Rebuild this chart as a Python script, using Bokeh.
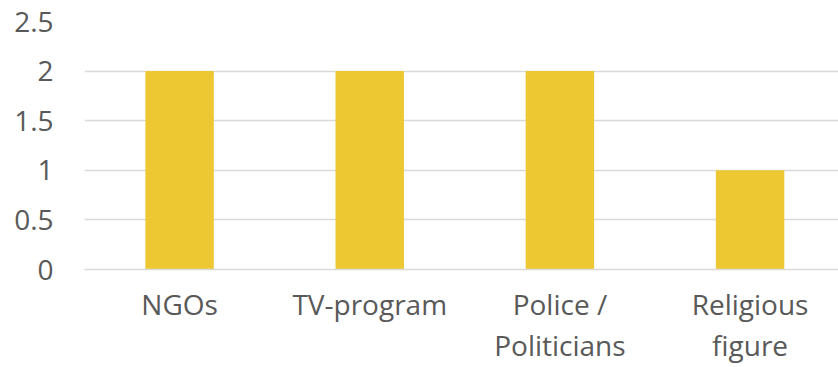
from bokeh.plotting import figure
from bokeh.models import Range1d, FixedTicker
from bokeh.embed import file_html
from bokeh.resources import INLINE

categories = ["NGOs", "TV-program", "Police /\nPoliticians", "Religious\nfigure"]
values = [2, 2, 2, 1]
y_ticks = [0, 0.5, 1, 1.5, 2, 2.5]
y_tick_labels = ["0", "0.5", "1", "1.5", "2", "2.5"]

xs = [i + 0.5 for i in range(len(categories))]

p = figure(width=838, height=367, output_backend="svg", toolbar_location=None,
           x_range=Range1d(0, 3.965), y_range=Range1d(0, 2.5),
           min_border_left=84, min_border_right=0, min_border_top=21, min_border_bottom=97)
p.outline_line_color = None
p.background_fill_color = "white"
p.border_fill_color = "white"

p.vbar(x=xs, top=values, width=0.36, fill_color="#EEC833", line_color=None)

font = "Open Sans"
p.yaxis.ticker = FixedTicker(ticks=y_ticks)
p.yaxis.major_label_overrides = {t: l for t, l in zip(y_ticks, y_tick_labels)}
p.yaxis.axis_line_color = None
p.yaxis.major_tick_line_color = None
p.yaxis.minor_tick_line_color = None
p.yaxis.major_tick_out = 0
p.yaxis.major_label_standoff = 31
p.yaxis.major_label_text_font = font
p.yaxis.major_label_text_font_size = "28px"
p.yaxis.major_label_text_color = "#595959"

p.xaxis.ticker = FixedTicker(ticks=xs)
p.xaxis.major_label_overrides = {x: c for x, c in zip(xs, categories)}
p.xaxis.axis_line_color = "#D9D9D9"
p.xaxis.axis_line_width = 1.5
p.xaxis.major_tick_line_color = None
p.xaxis.minor_tick_line_color = None
p.xaxis.major_tick_out = 0
p.xaxis.major_label_standoff = 15
p.xaxis.major_label_text_font = font
p.xaxis.major_label_text_font_size = "28px"
p.xaxis.major_label_text_line_height = 1.1
p.xaxis.major_label_text_color = "#595959"

p.xgrid.grid_line_color = None
p.ygrid.grid_line_color = "#D9D9D9"
p.ygrid.grid_line_width = 1.5

open("out.html", "w").write(file_html(p, INLINE))
